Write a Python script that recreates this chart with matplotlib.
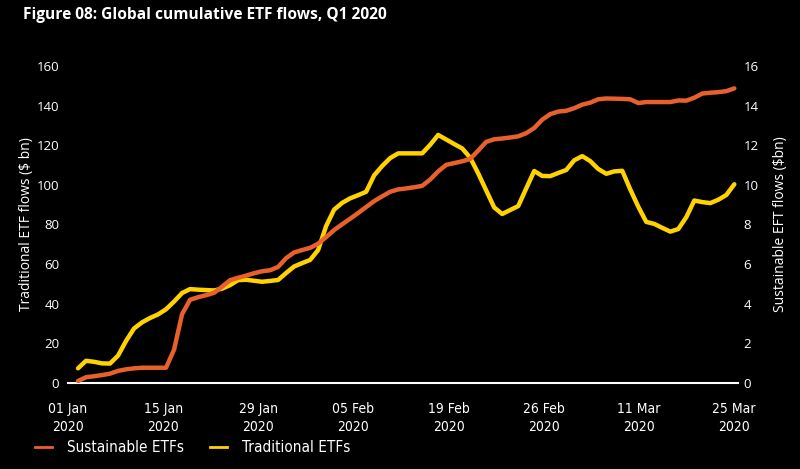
import matplotlib
matplotlib.use("Agg")
import matplotlib.pyplot as plt
from matplotlib.lines import Line2D
from matplotlib import font_manager

title = "Figure 08: Global cumulative ETF flows, Q1 2020"
tick_labels = ["01 Jan\n2020", "15 Jan\n2020", "29 Jan\n2020", "05 Feb\n2020",
               "19 Feb\n2020", "26 Feb\n2020", "11 Mar\n2020", "25 Mar\n2020"]

# Traditional ETFs, cumulative flows ($ bn) - left axis
traditional = [7.4, 11.2, 10.7, 9.9, 9.8, 13.8, 21.2, 27.5, 30.6, 32.8,
               34.6, 37.2, 41.1, 45.4, 47.4, 47.1, 46.9, 46.7, 47.6, 49.4,
               51.9, 52.1, 51.6, 51.1, 51.5, 52.0, 55.5, 58.8, 60.5, 62.1,
               67.1, 79.2, 87.5, 90.9, 93.2, 94.8, 96.5, 104.8, 109.5, 113.5,
               115.9, 115.9, 115.9, 115.9, 120.2, 125.2, 122.9, 120.6, 118.4, 113.7,
               105.8, 97.2, 88.6, 85.3, 87.3, 89.3, 98.2, 107.0, 104.5, 104.4,
               106.0, 107.5, 112.4, 114.5, 112.0, 108.0, 105.6, 106.8, 107.1, 97.7,
               89.0, 81.3, 80.3, 78.3, 76.4, 77.7, 83.7, 92.1, 91.3, 90.8,
               92.5, 94.9, 100.3]

# Sustainable ETFs, cumulative flows ($bn) - right axis
sustainable = [0.10, 0.29, 0.34, 0.40, 0.47, 0.61, 0.69, 0.74, 0.77, 0.77,
               0.77, 0.77, 1.68, 3.47, 4.20, 4.33, 4.43, 4.55, 4.86, 5.19,
               5.31, 5.42, 5.54, 5.64, 5.69, 5.86, 6.30, 6.59, 6.71, 6.82,
               7.03, 7.36, 7.72, 8.01, 8.29, 8.58, 8.88, 9.18, 9.42, 9.65,
               9.77, 9.82, 9.88, 9.95, 10.27, 10.68, 11.01, 11.10, 11.19, 11.31,
               11.73, 12.17, 12.30, 12.34, 12.39, 12.45, 12.61, 12.87, 13.29, 13.57,
               13.70, 13.74, 13.87, 14.05, 14.15, 14.32, 14.36, 14.35, 14.34, 14.32,
               14.13, 14.18, 14.18, 14.18, 14.18, 14.26, 14.25, 14.40, 14.61, 14.65,
               14.68, 14.73, 14.87]

orange = "#E8602C"
yellow = "#FFD200"
bg = "black"
fg = "white"

# pick a condensed face if one is installed
cond = font_manager.FontProperties(family="DejaVu Sans", stretch="condensed")
cond_file = font_manager.findfont(cond)

fig = plt.figure(figsize=(8.0, 4.69), dpi=100, facecolor=bg)
ax = fig.add_axes([0.0845, 0.1834, 0.8380, 0.6759])
ax.set_facecolor(bg)
ax2 = ax.twinx()

x = list(range(len(traditional)))
ax.plot(x, traditional, color=yellow, lw=3.2, solid_joinstyle="round",
        solid_capstyle="round", zorder=3)
ax2.plot(x, sustainable, color=orange, lw=3.2, solid_joinstyle="round",
         solid_capstyle="round", zorder=3)

ax.set_ylim(0, 160)
ax2.set_ylim(0, 16)
ax.set_yticks(range(0, 161, 20))
ax2.set_yticks(range(0, 17, 2))
ax.set_xlim(-1.3, 82.46)
step = 95.1 / 8.0
ticks = [-1.25 + k * step for k in range(len(tick_labels))]
ax.set_xticks(ticks)
ax.set_xticklabels(tick_labels, fontproperties=font_manager.FontProperties(fname=cond_file, size=10),
                   color=fg, linespacing=1.3)

for a in (ax, ax2):
    for s in a.spines.values():
        s.set_visible(False)
    a.tick_params(length=0, colors=fg)
ax.spines["bottom"].set_visible(True)
ax.spines["bottom"].set_color(fg)
ax.spines["bottom"].set_linewidth(1.5)
ax.tick_params(axis="x", pad=14)
ax.tick_params(axis="y", pad=6)
ax2.tick_params(axis="y", pad=4)
for lab in ax.get_yticklabels() + ax2.get_yticklabels():
    lab.set_family("Open Sans")
    lab.set_fontsize(9.5)
    lab.set_color(fg)

ax.set_ylabel("Traditional ETF flows ($ bn)", color=fg, fontsize=10,
              family="Open Sans")
ax2.set_ylabel("Sustainable EFT flows ($bn)", color=fg, fontsize=10,
               family="Open Sans")
ax.yaxis.set_label_coords(-0.050, 0.5)
ax2.yaxis.set_label_coords(1.052, 0.5)

fig.text(0.029, 0.968, title, color=fg, fontsize=11.2, fontweight="bold",
         family="Open Sans", ha="left", va="center")

handles = [Line2D([], [], color=orange, lw=2), Line2D([], [], color=yellow, lw=2)]
leg = fig.legend(handles, ["Sustainable ETFs", "Traditional ETFs"],
                 loc="center left", bbox_to_anchor=(0.027, 0.045), ncol=2,
                 frameon=False, handlelength=1.1, handletextpad=1.0,
                 columnspacing=1.7,
                 prop=font_manager.FontProperties(fname=cond_file, size=11))
for t in leg.get_texts():
    t.set_color(fg)

fig.savefig("out.png", dpi=100, facecolor=bg)
